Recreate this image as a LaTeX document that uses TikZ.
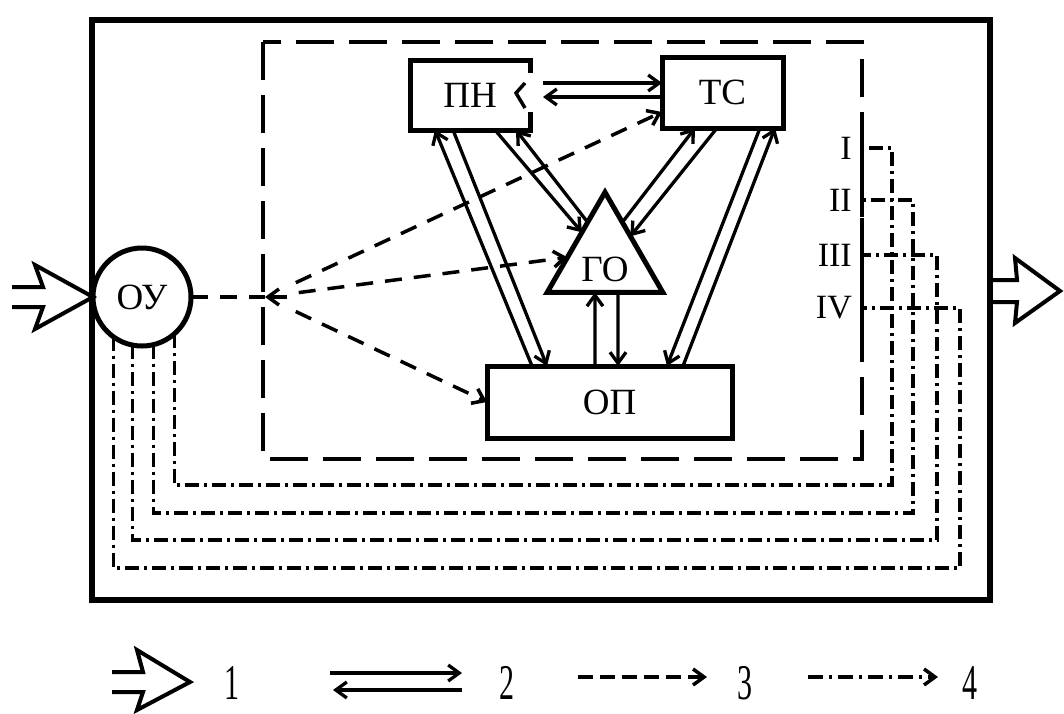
\documentclass[tikz,border=0pt]{standalone}
\usepackage{fontspec}
\setmainfont{Liberation Serif}
\usetikzlibrary{arrows.meta,calc,shapes.geometric}
\begin{document}
\begin{tikzpicture}[x=1pt,y=-1pt,
  >={Straight Barb[length=11pt,width=16pt]},
  box/.style={draw,line width=5pt,inner sep=0pt,outer sep=0pt},
  lbl/.style={font=\fontsize{37}{37}\selectfont},
  dbl/.style={line width=3.3pt},
  dsh/.style={line width=3.5pt,dash pattern=on 17pt off 12pt},
  sig/.style={line width=3.2pt,dash pattern=on 14pt off 5pt on 3pt off 5pt},
  frm/.style={line width=4.5pt,dash pattern=on 38pt off 15pt},
  fat/.style={line width=4pt,line join=miter},
  num/.style={font=\fontsize{34}{34}\selectfont,inner sep=0pt,anchor=east},
  leg/.style={font=\fontsize{50}{50}\selectfont,inner sep=0pt},
  tickbar/.style={line width=4.5pt}]
\useasboundingbox (0,0) rectangle (1064,713);

% frames
\draw[line width=5.5pt] (92,20) rectangle (990,600);
\draw[frm] (263,42) rectangle (862,459);

% nodes
\node[lbl,inner sep=0pt,outer sep=0pt,minimum width=120pt,minimum height=70pt] (pn) at (470,95) {ПН};
\draw[line width=5pt] ($(pn.north east)+(0,13)$) -- (pn.north east) -- (pn.north west) -- (pn.south west) -- (pn.south east) -- ($(pn.south east)+(0,-18)$);
\draw[line width=3.5pt] ($(pn.north east)+(-5,23)$) -- ($(pn.north east)+(-14,33)$) -- ($(pn.north east)+(-5,48)$);
\node[box,lbl,minimum width=121pt,minimum height=71pt] (tc) at (722.5,92.5) {ТС};
\node[box,lbl,minimum width=245pt,minimum height=72pt] (op) at (609.5,402) {ОП};
\node[box,lbl,circle,minimum size=98pt] (ou) at (142,297) {ОУ};
\node[box,lbl,regular polygon,regular polygon sides=3,minimum size=133pt,text height=44pt,text depth=0pt] (go) at (605,259) {ГО};

% ПН <-> ТС
\draw[dbl,->] ($(pn.east)+(13,-12)$) -- ($(tc.west)+(0,-9.5)$);
\draw[dbl,->] ($(tc.west)+(0,4.5)$) -- ($(pn.east)+(13,2)$);
% ПН <-> ОП
\draw[dbl,->] ($(op.north west)+(45,0)$) -- ($(pn.south west)+(25,0)$);
\draw[dbl,->] ($(pn.south west)+(43,0)$) -- ($(op.north west)+(60,0)$);
% ПН <-> ГО
\draw[dbl,->] ($(pn.south west)+(85,0)$) -- ($(go.corner 1)!0.4!(go.corner 2)$);
\draw[dbl,->] ($(go.corner 1)!0.3!(go.corner 2)$) -- ($(pn.south west)+(106,0)$);
% ТС <-> ГО
\draw[dbl,->] ($(go.corner 1)!0.3!(go.corner 3)$) -- ($(tc.south west)+(33,0)$);
\draw[dbl,->] ($(tc.south west)+(55,0)$) -- ($(go.corner 1)!0.44!(go.corner 3)$);
% ТС <-> ОП
\draw[dbl,->] ($(tc.south west)+(98,0)$) -- ($(op.north west)+(180,0)$);
\draw[dbl,->] ($(op.north west)+(196,0)$) -- ($(tc.south west)+(113,0)$);
% ГО <-> ОП
\draw[dbl,->] ($(op.north west)+(108,0)$) -- ($(go.corner 2)!0.413!(go.corner 3)$);
\draw[dbl,->] ($(go.corner 2)!0.613!(go.corner 3)$) -- ($(op.north west)+(131,0)$);

% dashed links through the hub
\coordinate (hub) at (265,297);
\coordinate (hubr) at (287,297);
\coordinate (tcin) at ($(tc.south west)+(0,-16)$);
\coordinate (goin) at ($(go.corner 1)!0.65!(go.corner 2)$);
\draw[dsh] (ou.east) -- (hub);
\draw[line width=3.5pt,->] (hubr) -- (hub);
\draw[dsh,->] ($(hub)!34pt!(tcin)$) -- (tcin);
\draw[dsh,->] ($(hub)!34pt!(goin)$) -- (goin);
\draw[dsh,->] ($(hub)!34pt!(op.west)$) -- (op.west);

% signal lines I-IV
\coordinate (t1) at (862,148); \coordinate (r1) at (892,485);
\coordinate (t2) at (862,200); \coordinate (r2) at (913,513);
\coordinate (t3) at (862,255); \coordinate (r3) at (937,540);
\coordinate (t4) at (862,308); \coordinate (r4) at (960,568);
\draw[sig] (ou.-49) |- (r1) |- (t1);
\draw[sig] (ou.-76) |- (r2) |- (t2);
\draw[sig] (ou.-101) |- (r3) |- (t3);
\draw[sig] (ou.-126) |- (r4) |- (t4);
\foreach \t in {t1,t2,t3,t4}
  \draw[tickbar] ($(\t)+(0,-17)$) -- ($(\t)+(0,17)$);
\node[num] (n1) at (852,148) {I};
\node[num] (n2) at (852,200) {II};
\node[num] (n3) at (852,255) {III};
\node[num] (n4) at (852,308) {IV};

% input and output
\draw[fat] (12,287) -- (43,287) -- (35,265) -- (ou.west) -- (35,329) -- (43,307) -- (12,307);
\draw[fat] (990,280) -- (1017,280) -- (1015,258) -- (1060,291) -- (1015,323) -- (1017,302) -- (990,302);

% legend
\draw[fat] (112,672) -- (143,672) -- (137,650) -- (190,682) -- (137,710) -- (143,692) -- (112,692);
\node[leg] (l1) at (232,683) {\scalebox{0.6}[1]{1}};
\coordinate (a2) at (330,673); \coordinate (b2) at (462,673);
\coordinate (c2) at (462,690); \coordinate (d2) at (333,690);
\draw[dbl,->] (a2) -- (b2);
\draw[dbl,->] (c2) -- (d2);
\node[leg] (l2) at (507,683) {\scalebox{0.6}[1]{2}};
\coordinate (a3) at (578,677); \coordinate (b3) at (707,677);
\draw[line width=3.5pt,dash pattern=on 15pt off 7pt,->] (a3) -- (b3);
\node[leg] (l3) at (745,683) {\scalebox{0.6}[1]{3}};
\coordinate (a4) at (808,677); \coordinate (b4) at (938,677);
\draw[line width=3.5pt,dash pattern=on 15pt off 6pt on 3pt off 6pt,->] (a4) -- (b4);
\node[leg] (l4) at (970,683) {\scalebox{0.6}[1]{4}};
\end{tikzpicture}
\end{document}
